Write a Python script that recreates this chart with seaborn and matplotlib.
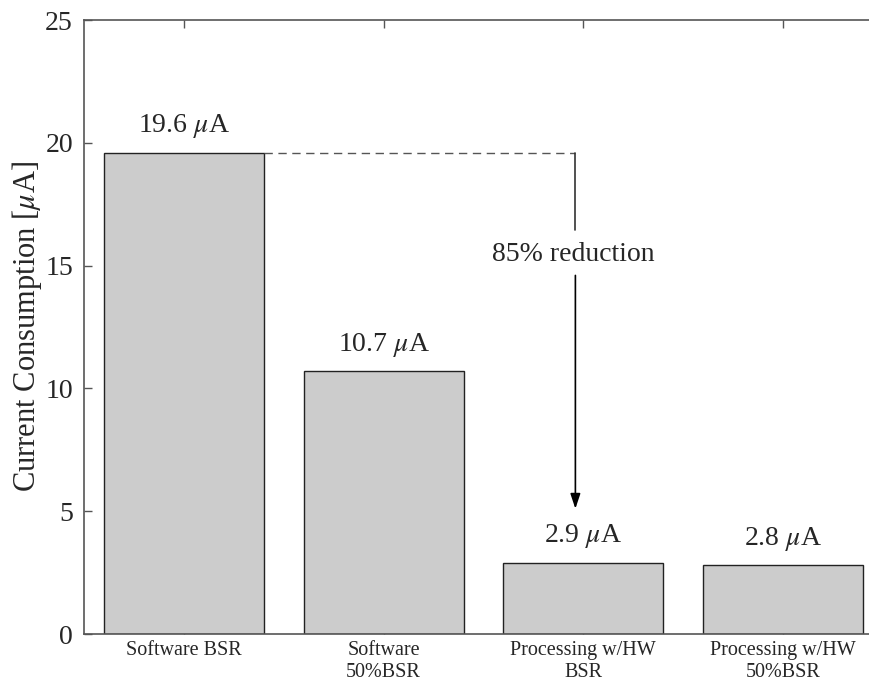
import matplotlib
matplotlib.use("Agg")
import matplotlib.pyplot as plt
import seaborn as sns
import pandas as pd

categories = ["Software BSR", "Software\n50%BSR", "Processing w/HW\nBSR", "Processing w/HW\n50%BSR"]
current_ua = [19.6, 10.7, 2.9, 2.8]
y_ticks = [0, 5, 10, 15, 20, 25]
reduction_text = "85% reduction"

sns.set_style("white")
plt.rcParams["font.family"] = ["Liberation Serif", "DejaVu Serif"]
plt.rcParams["mathtext.fontset"] = "stix"

df = pd.DataFrame({"config": categories, "current": current_ua})

fig = plt.figure(figsize=(8.7, 6.8), dpi=100)
ax = fig.add_axes([84 / 870, 1 - 634 / 680, (883 - 84) / 870, 614 / 680])

sns.barplot(data=df, x="config", y="current", color="#cccccc", saturation=1,
            edgecolor="#222222", linewidth=1.0, width=0.8, ax=ax)

ax.set_xlim(-0.5, 3.5)
ax.set_ylim(0, 25)
ax.set_yticks(y_ticks)
ax.set_yticklabels([str(t) for t in y_ticks], fontsize=20)
ax.tick_params(axis="x", labelsize=14.5, pad=5)
ax.tick_params(axis="y", pad=8)
ax.tick_params(direction="in", length=6, width=1, color="#555555",
               top=True, right=True, bottom=True, left=True)
ax.set_xlabel("")
ax.set_ylabel(r"Current Consumption [$\mu$A]", fontsize=22, va="center")
ax.yaxis.set_label_coords(-57 / 799, 0.5)
for sp in ax.spines.values():
    sp.set_color("#555555")
    sp.set_linewidth(1.2)

# value labels above each bar
ax.bar_label(ax.containers[0], labels=[f"{v} $\\mu$A" for v in current_ua],
             padding=9, fontsize=20)

# reduction marker: dashed reference from the first bar, then arrow down
x_arrow = 1.96
y_top = current_ua[0]
ax.plot([0.4, x_arrow], [y_top, y_top], ls=(0, (6, 4)), color="#555555", lw=1.0)
ax.plot([x_arrow, x_arrow], [y_top, 16.45], color="#333333", lw=1.2)
ax.annotate("", xy=(x_arrow, 5.1), xytext=(x_arrow, 14.6),
            arrowprops=dict(arrowstyle="-|>,head_length=0.9,head_width=0.3",
                            color="black", lw=1.2, shrinkA=0, shrinkB=0))
ax.text(x_arrow - 0.01, 15.45, reduction_text, ha="center", va="center", fontsize=20)

fig.savefig("out.png", dpi=100)
